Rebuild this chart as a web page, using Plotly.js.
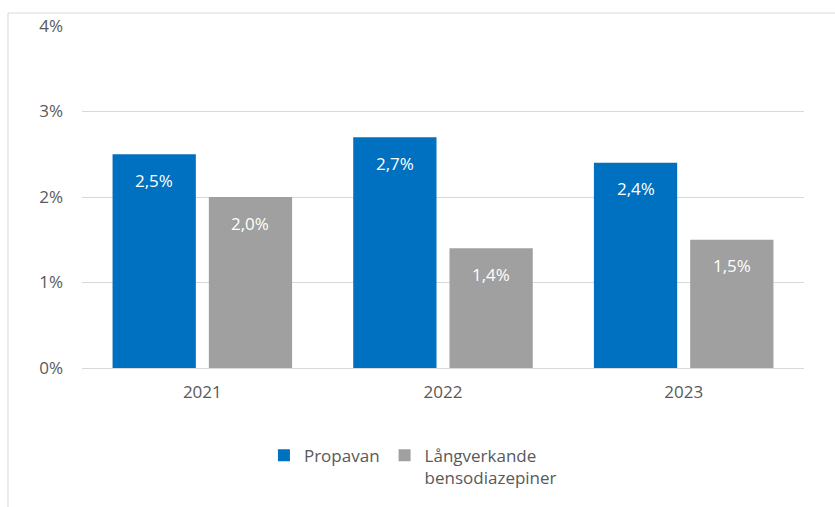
<!DOCTYPE html>
<html><head><meta charset="utf-8">
<script src="https://cdn.plot.ly/plotly-3.0.1.min.js"></script>
<style>html,body{margin:0;padding:0;background:#fff;}#chart{width:835px;height:507px;}</style>
</head><body><div id="chart"></div>
<script>
const years = ['2021', '2022', '2023'];
const propavan = [2.5, 2.7, 2.4];
const langverkande = [2.0, 1.4, 1.5];
const propavanLabels = ['2,5%', '2,7%', '2,4%'];
const langverkandeLabels = ['2,0%', '1,4%', '1,5%'];
const seriesNames = ['Propavan', 'Långverkande<br>bensodiazepiner'];

const FONT = 'Open Sans, Noto Sans, sans-serif';
const FS = 17;
const BLUE = '#0070C0', GRAY = '#A0A0A0', TXT = '#595959';

const traces = [
  {type: 'bar', x: years, y: propavan, name: seriesNames[0], marker: {color: BLUE}, hoverinfo: 'none'},
  {type: 'bar', x: years, y: langverkande, name: seriesNames[1], marker: {color: GRAY}, hoverinfo: 'none'}
];

const annotations = [];
years.forEach((yr, i) => {
  annotations.push({x: i, y: propavan[i], xref: 'x', yref: 'y', text: propavanLabels[i], showarrow: false,
    xshift: -48, yshift: -26, font: {family: FONT, size: FS, color: '#ffffff'}});
  annotations.push({x: i, y: langverkande[i], xref: 'x', yref: 'y', text: langverkandeLabels[i], showarrow: false,
    xshift: 48, yshift: -26, font: {family: FONT, size: FS, color: '#ffffff'}});
});

const layout = {
  width: 835, height: 507,
  margin: {l: 82, r: 31, t: 26, b: 138},
  paper_bgcolor: '#ffffff', plot_bgcolor: '#ffffff',
  font: {family: FONT, color: TXT, size: FS},
  barmode: 'group', bargap: 0.2, bargroupgap: 0.135,
  showlegend: true,
  legend: {orientation: 'h', x: 0.252, xanchor: 'left', y: -0.2, yanchor: 'top', valign: 'top',
    font: {family: FONT, size: FS, color: TXT}, itemclick: false, traceorder: 'normal'},
  xaxis: {type: 'category', range: [-0.5, 2.5], autorange: false, showgrid: false, zeroline: false, showline: false, ticks: '',
    ticklabelstandoff: 12, tickfont: {family: FONT, size: FS, color: TXT}},
  yaxis: {range: [0, 4], autorange: false, dtick: 1, tick0: 0, ticksuffix: '%', showgrid: true, gridcolor: '#D9D9D9', gridwidth: 1,
    zeroline: true, zerolinecolor: '#D9D9D9', zerolinewidth: 1, showline: false, ticks: '',
    ticklabelstandoff: 18, tickfont: {family: FONT, size: FS, color: TXT}},
  annotations: annotations,
  shapes: [{type: 'rect', xref: 'paper', yref: 'paper', x0: -0.1025, x1: 1.2, y0: -0.6, y1: 1.038,
    line: {color: '#D9D9D9', width: 1}, fillcolor: 'rgba(0,0,0,0)', layer: 'below'}]
};

Plotly.newPlot('chart', traces, layout, {staticPlot: true, displayModeBar: false});
</script>
</body></html>
